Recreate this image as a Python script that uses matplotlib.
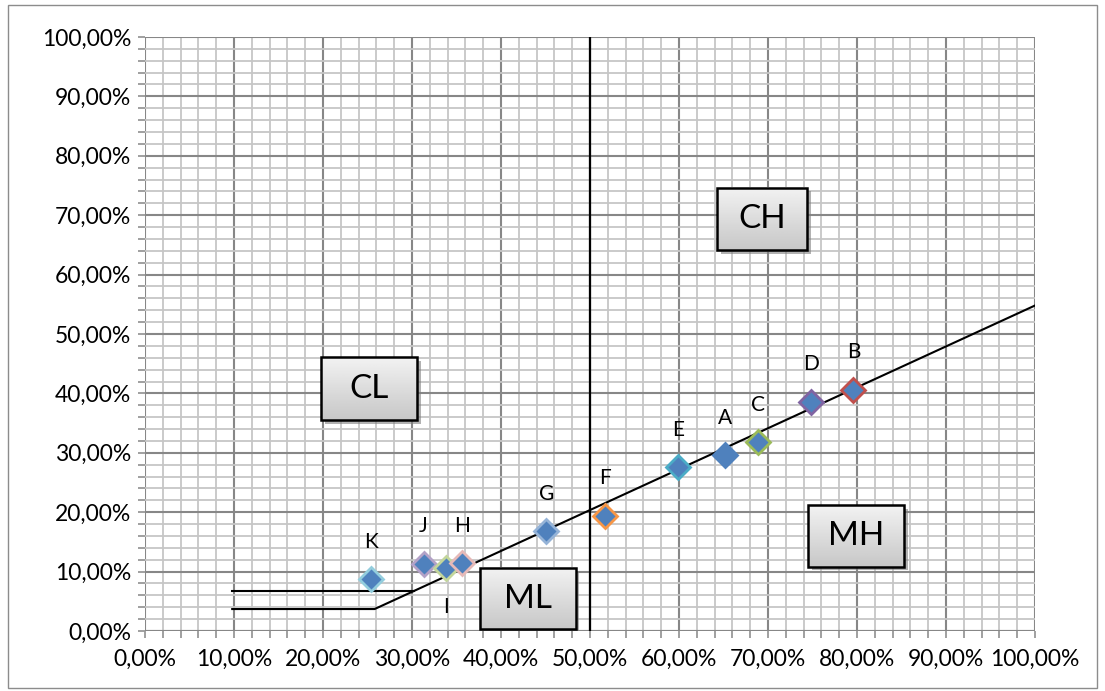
import matplotlib.pyplot as plt
import matplotlib.patches as patches
import numpy as np
from matplotlib.ticker import MultipleLocator, FuncFormatter

plt.rcParams['font.family'] = ['Lato', 'DejaVu Sans']

# soil samples: liquid limit (LL) and plasticity index (PI), as fractions
names = ['K', 'J', 'I', 'H', 'G', 'F', 'E', 'A', 'C', 'D', 'B']
ll = [0.254, 0.313, 0.338, 0.356, 0.451, 0.517, 0.599, 0.652, 0.689, 0.748, 0.796]
pi = [0.0875, 0.113, 0.106, 0.114, 0.168, 0.194, 0.276, 0.296, 0.318, 0.386, 0.406]
edges = ['#93CDDD', '#B3A2C7', '#C3D69B', '#E6B9B8', '#95B3D7', '#F79646',
         '#4BACC6', '#4F81BD', '#9BBB59', '#8064A2', '#C0504D']
label_below = ['I']

# A-line and U-shaped lower boundary
aline_x = [0.098, 0.258, 1.0]
aline_y = [0.037, 0.037, 0.548]
upper_x = [0.098, 0.302]
upper_y = [0.067, 0.067]

# zone boxes: name, x0, x1, y0, y1
zones = [('CL', 0.198, 0.306, 0.355, 0.461),
         ('CH', 0.643, 0.744, 0.641, 0.746),
         ('ML', 0.376, 0.484, 0.003, 0.106),
         ('MH', 0.745, 0.853, 0.108, 0.212)]

fig = plt.figure(figsize=(11.05, 6.91), dpi=100)
ax = fig.add_axes([0.1312, 0.0868, 0.8055, 0.8597])
ax.set_xlim(0, 1)
ax.set_ylim(0, 1)

ax.xaxis.set_major_locator(MultipleLocator(0.1))
ax.xaxis.set_minor_locator(MultipleLocator(0.02))
ax.yaxis.set_major_locator(MultipleLocator(0.1))
ax.yaxis.set_minor_locator(MultipleLocator(0.02))
fmt = FuncFormatter(lambda v, p: f"{v*100:.2f}%".replace('.', ','))
ax.xaxis.set_major_formatter(fmt)
ax.yaxis.set_major_formatter(fmt)
ax.grid(which='major', color='#878787', lw=1.5)
ax.grid(which='minor', color='#c6c6c6', lw=1.3)
ax.set_axisbelow(True)
ax.tick_params(which='both', direction='out', length=5, width=1.3, color='#999999',
               labelsize=16.5)
ax.tick_params(axis='x', pad=8)
ax.tick_params(axis='y', pad=5)
for s in ax.spines.values():
    s.set_visible(False)
ax.axhline(0, color='#878787', lw=1.5, zorder=1)

ax.axvline(0.5, color='black', lw=1.6, zorder=3)
ax.plot(aline_x, aline_y, color='black', lw=1.5, zorder=3)
ax.plot(upper_x, upper_y, color='black', lw=1.5, zorder=3)

for n, x, y, ec in zip(names, ll, pi, edges):
    ax.plot(x, y, marker='D', ms=12.5, mfc='#4F81BD', mec=ec, mew=2, ls='none', zorder=4)
    off = -28 if n in label_below else 27
    ax.annotate(n, (x, y), xytext=(0, off), textcoords='offset points',
                ha='center', va='center', fontsize=15)

grad = np.linspace(0.95, 0.78, 100).reshape(-1, 1)
for name, x0, x1, y0, y1 in zones:
    ax.add_patch(patches.Rectangle((x0 + 0.004, y0 - 0.006), x1 - x0, y1 - y0,
                                   facecolor='#7f7f7f', alpha=0.6, edgecolor='none', zorder=5))
    ax.imshow(grad, cmap='gray', vmin=0, vmax=1, extent=(x0, x1, y0, y1),
              aspect='auto', origin='upper', zorder=6)
    ax.add_patch(patches.Rectangle((x0, y0), x1 - x0, y1 - y0, facecolor='none',
                                   edgecolor='black', lw=1.8, zorder=7))
    ax.text((x0 + x1) / 2, (y0 + y1) / 2, name, ha='center', va='center',
            fontsize=24, zorder=8)

ax.set_xlim(0, 1)
ax.set_ylim(0, 1)

fig.patches.append(patches.Rectangle((8 / 1105, 3 / 691), 1089 / 1105, 683 / 691,
                                     transform=fig.transFigure, fill=False,
                                     edgecolor='#8c8c8c', lw=1))

fig.savefig('out.png', dpi=100)
